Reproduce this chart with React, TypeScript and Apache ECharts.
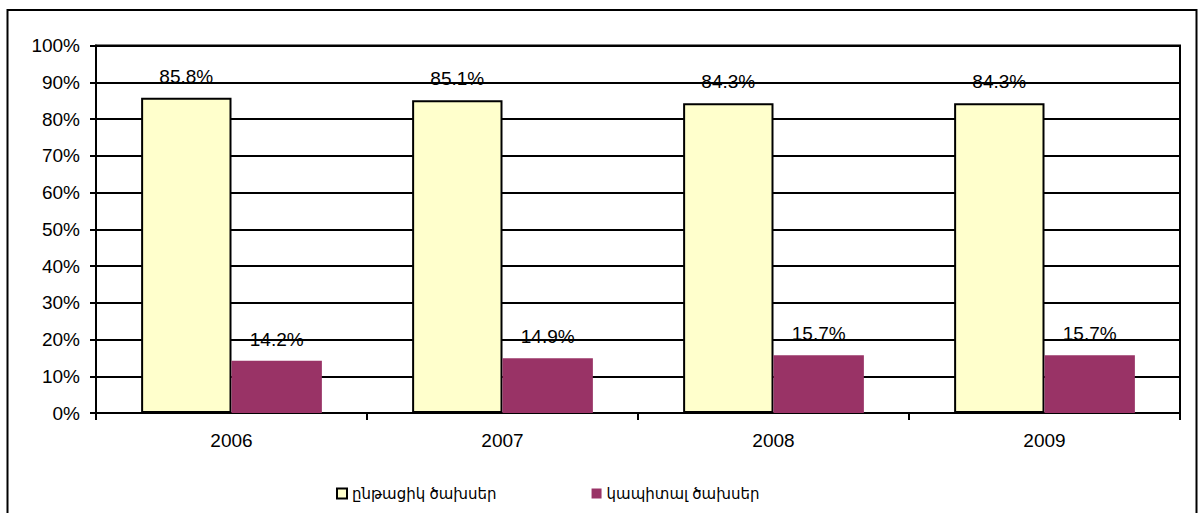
import React, { useEffect, useRef } from "react";
import * as echarts from "echarts";

const categories = ["2006", "2007", "2008", "2009"];
const currentExpenses = [85.8, 85.1, 84.3, 84.3];
const capitalExpenses = [14.2, 14.9, 15.7, 15.7];
const seriesNames = ["ընթացիկ ծախսեր", "կապիտալ ծախսեր"];

const FONT = "Arial, 'Liberation Sans', 'DejaVu Sans', sans-serif";

export default function App() {
  const ref = useRef<HTMLDivElement>(null);
  useEffect(() => {
    if (!ref.current) return;
    const chart = echarts.init(ref.current, undefined, { renderer: "svg" });
    chart.setOption({
      animation: false,
      backgroundColor: "#fff",
      textStyle: { fontFamily: FONT },
      graphic: [
        {
          type: "rect",
          shape: { x: 7.5, y: 10, width: 1189, height: 600 },
          style: { fill: "none", stroke: "#000", lineWidth: 2 },
          z: 100,
        },
      ],
      grid: {
        left: 96,
        top: 45.5,
        right: 19,
        bottom: 100,
        show: true,
        borderColor: "#000",
        borderWidth: 2,
        backgroundColor: "transparent",
      },
      legend: {
        left: 331,
        top: 481,
        icon: "rect",
        itemWidth: 10,
        itemHeight: 10,
        itemGap: 95,
        textStyle: { fontSize: 15, color: "#000", fontFamily: FONT },
        data: [
          { name: seriesNames[0], itemStyle: { color: "#FFFFCC", borderColor: "#000", borderWidth: 2 } },
          { name: seriesNames[1], itemStyle: { color: "#993366", borderWidth: 0 } },
        ],
      },
      xAxis: {
        type: "category",
        data: categories,
        axisLine: { lineStyle: { color: "#000", width: 2 } },
        axisTick: { show: true, length: 7, lineStyle: { color: "#000", width: 2 } },
        axisLabel: { color: "#000", fontSize: 19, margin: 18, interval: 0, fontFamily: FONT },
      },
      yAxis: {
        type: "value",
        min: 0,
        max: 100,
        interval: 10,
        axisLine: { show: true, lineStyle: { color: "#000", width: 2 } },
        axisTick: { show: true, length: 6, lineStyle: { color: "#000", width: 2 } },
        axisLabel: { color: "#000", fontSize: 19, margin: 16, formatter: "{value}%", fontFamily: FONT },
        splitLine: { show: true, lineStyle: { color: "#000", width: 2 } },
      },
      series: [
        {
          name: seriesNames[0],
          type: "bar",
          data: currentExpenses,
          barGap: "0%",
          barCategoryGap: "33.3%",
          itemStyle: { color: "#FFFFCC", borderColor: "#000", borderWidth: 2 },
          label: {
            show: true,
            position: "top",
            distance: 12,
            formatter: "{c}%",
            color: "#000",
            fontSize: 19,
            fontFamily: FONT,
          },
        },
        {
          name: seriesNames[1],
          type: "bar",
          data: capitalExpenses,
          barGap: "0%",
          barCategoryGap: "33.3%",
          itemStyle: { color: "#993366" },
          label: {
            show: true,
            position: "top",
            distance: 12,
            formatter: "{c}%",
            color: "#000",
            fontSize: 19,
            fontFamily: FONT,
          },
        },
      ],
    });
    return () => chart.dispose();
  }, []);
  return (
    <div
      ref={ref}
      style={{ position: "absolute", left: 0, top: 0, width: 1199, height: 513 }}
    />
  );
}
